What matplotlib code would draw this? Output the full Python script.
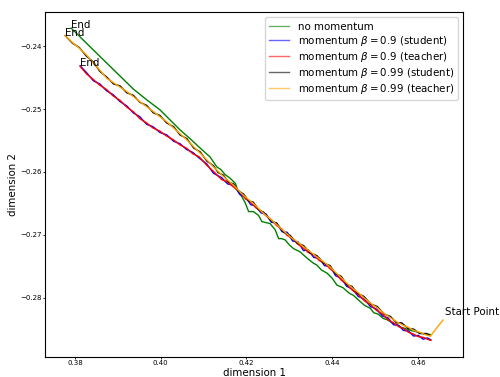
import matplotlib
matplotlib.use("Agg")
import matplotlib.pyplot as plt

# trajectories (dimension 1, dimension 2)
start_point = (0.4629, -0.2861)

green_x = [0.4629, 0.4620, 0.4612, 0.4598, 0.4583, 0.4570, 0.4560, 0.4551, 0.4540, 0.4528,
           0.4519, 0.4507, 0.4497, 0.4489, 0.4475, 0.4465, 0.4449, 0.4440, 0.4425, 0.4411,
           0.4400, 0.4388, 0.4375, 0.4364, 0.4356, 0.4343, 0.4325, 0.4310, 0.4300, 0.4290,
           0.4282, 0.4275, 0.4267, 0.4255, 0.4236, 0.4228, 0.4216, 0.4205, 0.4197, 0.4189,
           0.4180, 0.4174, 0.4162, 0.4150, 0.4140, 0.4131, 0.4115, 0.4092, 0.4070, 0.4045,
           0.4020, 0.3998, 0.3967, 0.3936, 0.3900, 0.3858, 0.3825, 0.3791]
green_y = [-0.28590, -0.28570, -0.28575, -0.28545, -0.28520, -0.28490, -0.28470, -0.28430, -0.28400, -0.28350,
           -0.28330, -0.28260, -0.28240, -0.28170, -0.28120, -0.28060, -0.27960, -0.27930, -0.27840, -0.27800,
           -0.27690, -0.27610, -0.27560, -0.27480, -0.27450, -0.27380, -0.27270, -0.27220, -0.27160, -0.27080,
           -0.27060, -0.27060, -0.26920, -0.26820, -0.26790, -0.26690, -0.26630, -0.26630, -0.26490, -0.26390,
           -0.26300, -0.26180, -0.26100, -0.26040, -0.25960, -0.25920, -0.25760, -0.25620, -0.25480, -0.25330,
           -0.25160, -0.25010, -0.24850, -0.24680, -0.24440, -0.24160, -0.23940, -0.23710]

b09_x = [0.4630, 0.4622, 0.4612, 0.4601, 0.4590, 0.4578, 0.4566, 0.4555, 0.4543, 0.4530,
         0.4517, 0.4503, 0.4489, 0.4475, 0.4461, 0.4447, 0.4434, 0.4421, 0.4408, 0.4395,
         0.4382, 0.4370, 0.4357, 0.4344, 0.4333, 0.4320, 0.4308, 0.4295, 0.4283, 0.4270,
         0.4258, 0.4246, 0.4234, 0.4222, 0.4210, 0.4198, 0.4185, 0.4170, 0.4156, 0.4142,
         0.4123, 0.4107, 0.4090, 0.4075, 0.4060, 0.4045, 0.4030, 0.4014, 0.3998, 0.3982,
         0.3967, 0.3951, 0.3936, 0.3921, 0.3905, 0.3889, 0.3874, 0.3858, 0.3843, 0.3827, 0.3812]
b09_student_y = [-0.28670, -0.28640, -0.28660, -0.28600, -0.28610, -0.28530, -0.28520, -0.28440, -0.28430, -0.28320,
                 -0.28290, -0.28180, -0.28140, -0.28020, -0.27980, -0.27860, -0.27820, -0.27690, -0.27650, -0.27500,
                 -0.27490, -0.27370, -0.27360, -0.27240, -0.27250, -0.27110, -0.27100, -0.26960, -0.26950, -0.26810,
                 -0.26800, -0.26670, -0.26650, -0.26540, -0.26520, -0.26400, -0.26360, -0.26210, -0.26190, -0.26090,
                 -0.26020, -0.25870, -0.25780, -0.25690, -0.25640, -0.25550, -0.25510, -0.25410, -0.25370, -0.25280,
                 -0.25240, -0.25120, -0.25060, -0.24950, -0.24880, -0.24770, -0.24710, -0.24600, -0.24550, -0.24420, -0.24310]
b09_teacher_y = [-0.28680, -0.28660, -0.28630, -0.28620, -0.28580, -0.28550, -0.28490, -0.28460, -0.28400, -0.28350,
                 -0.28260, -0.28200, -0.28110, -0.28050, -0.27950, -0.27880, -0.27790, -0.27720, -0.27610, -0.27540,
                 -0.27450, -0.27410, -0.27320, -0.27280, -0.27210, -0.27150, -0.27060, -0.27010, -0.26910, -0.26850,
                 -0.26760, -0.26700, -0.26620, -0.26570, -0.26480, -0.26430, -0.26320, -0.26240, -0.26160, -0.26120,
                 -0.25990, -0.25890, -0.25760, -0.25710, -0.25620, -0.25570, -0.25490, -0.25430, -0.25350, -0.25300,
                 -0.25220, -0.25150, -0.25040, -0.24970, -0.24860, -0.24790, -0.24690, -0.24620, -0.24530, -0.24440, -0.24320]

b099_x = [0.4629, 0.4618, 0.4604, 0.4590, 0.4577, 0.4562, 0.4550, 0.4536, 0.4521, 0.4505,
          0.4490, 0.4474, 0.4459, 0.4446, 0.4434, 0.4421, 0.4408, 0.4395, 0.4380, 0.4364,
          0.4349, 0.4333, 0.4318, 0.4302, 0.4287, 0.4271, 0.4256, 0.4240, 0.4228, 0.4216,
          0.4205, 0.4193, 0.4181, 0.4170, 0.4158, 0.4146, 0.4134, 0.4123, 0.4108, 0.4092,
          0.4077, 0.4061, 0.4045, 0.4030, 0.4014, 0.3998, 0.3983, 0.3967, 0.3951, 0.3936,
          0.3921, 0.3905, 0.3890, 0.3874, 0.3858, 0.3843, 0.3827, 0.3810, 0.3794, 0.3777]
b099_student_y = [-0.28600, -0.28570, -0.28570, -0.28500, -0.28490, -0.28400, -0.28400, -0.28300, -0.28260, -0.28140,
                  -0.28100, -0.27980, -0.27930, -0.27820, -0.27790, -0.27660, -0.27620, -0.27490, -0.27450, -0.27330,
                  -0.27290, -0.27170, -0.27130, -0.27010, -0.26960, -0.26820, -0.26770, -0.26640, -0.26600, -0.26480,
                  -0.26460, -0.26350, -0.26300, -0.26190, -0.26160, -0.26050, -0.26010, -0.25900, -0.25830, -0.25680,
                  -0.25620, -0.25470, -0.25410, -0.25280, -0.25220, -0.25100, -0.25060, -0.24940, -0.24890, -0.24780,
                  -0.24740, -0.24630, -0.24600, -0.24490, -0.24400, -0.24250, -0.24160, -0.24020, -0.23950, -0.23830]
b099_teacher_y = [-0.28610, -0.28590, -0.28550, -0.28520, -0.28470, -0.28430, -0.28380, -0.28320, -0.28250, -0.28160,
                  -0.28090, -0.28000, -0.27910, -0.27840, -0.27770, -0.27680, -0.27600, -0.27510, -0.27430, -0.27350,
                  -0.27270, -0.27190, -0.27110, -0.27030, -0.26940, -0.26840, -0.26750, -0.26660, -0.26580, -0.26500,
                  -0.26440, -0.26370, -0.26290, -0.26210, -0.26140, -0.26070, -0.25990, -0.25920, -0.25810, -0.25700,
                  -0.25600, -0.25490, -0.25390, -0.25300, -0.25200, -0.25120, -0.25040, -0.24960, -0.24880, -0.24800,
                  -0.24720, -0.24650, -0.24580, -0.24510, -0.24380, -0.24270, -0.24140, -0.24030, -0.23940, -0.23830]

series = [
    ("no momentum", green_x, green_y, "green"),
    (r"momentum $\beta=0.9$ (student)", b09_x, b09_student_y, "blue"),
    (r"momentum $\beta=0.9$ (teacher)", b09_x, b09_teacher_y, "red"),
    (r"momentum $\beta=0.99$ (student)", b099_x, b099_student_y, "black"),
    (r"momentum $\beta=0.99$ (teacher)", b099_x, b099_teacher_y, "orange"),
]

fs = 7.4

fig = plt.figure(figsize=(5, 3.77), dpi=100)
ax = fig.add_axes([0.0906, 0.0538, 0.836, 0.9136])

for label, xs, ys, color in series:
    ax.plot(xs, ys, color=color, lw=1.0, label=label)

# one "End" per trajectory (student/teacher finish at the same spot)
for xs, ys in [(green_x, green_y), (b09_x, b09_teacher_y), (b099_x, b099_teacher_y)]:
    ax.text(xs[-1], ys[-1], "End", fontsize=fs)

ax.annotate("Start Point", xy=start_point, xytext=(0.46638, -0.28276), fontsize=fs,
            arrowprops=dict(arrowstyle="-", color="orange", lw=1.0, relpos=(0, 0),
                            shrinkA=0, shrinkB=0))

ax.set_xlim(0.37307, 0.47058)
ax.set_ylim(-0.28939, -0.23459)
ax.set_xticks([0.38, 0.40, 0.42, 0.44, 0.46])
ax.set_yticks([-0.24, -0.25, -0.26, -0.27, -0.28])
ax.tick_params(labelsize=5, length=1.5, width=0.6, pad=0.8)
ax.set_xlabel("dimension 1", fontsize=fs, labelpad=1.5)
ax.set_ylabel("dimension 2", fontsize=fs, labelpad=2)

leg = ax.legend(loc="upper right", fontsize=fs, labelspacing=0.2)
for h in leg.get_lines():
    h.set_alpha(0.6)

fig.savefig("out.png", dpi=100)
